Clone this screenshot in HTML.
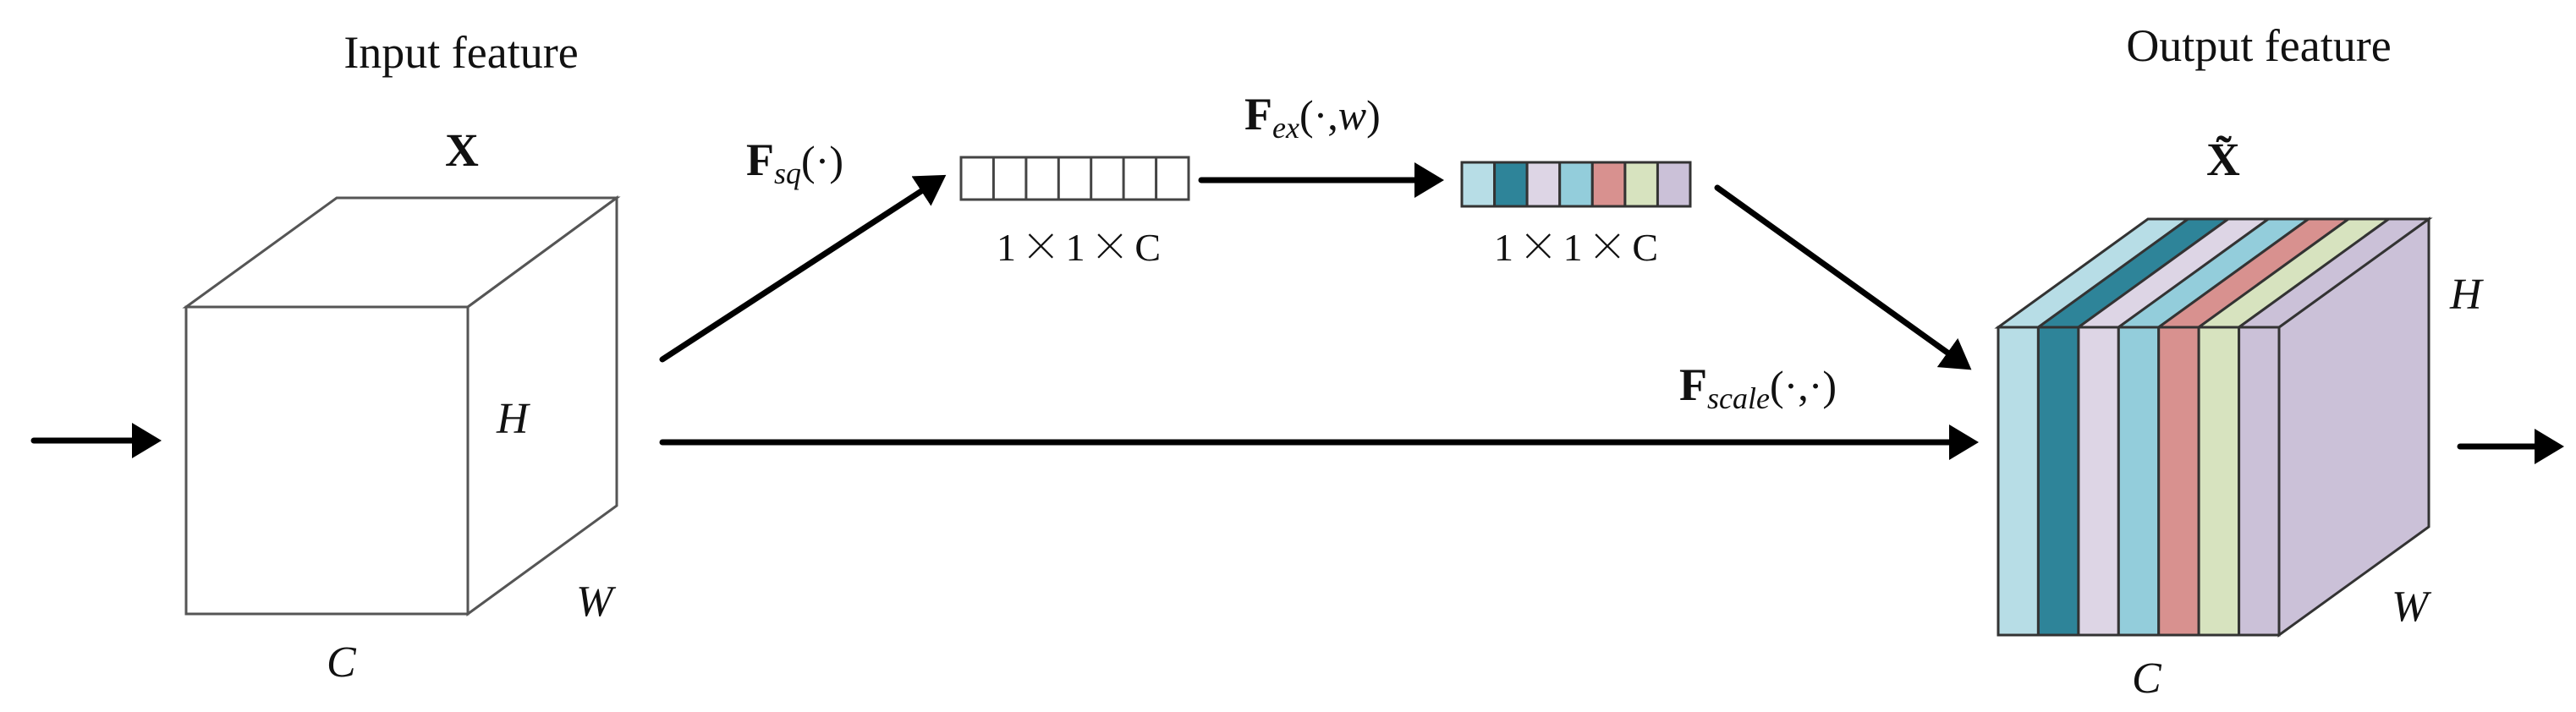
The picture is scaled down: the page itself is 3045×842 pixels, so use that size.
<!DOCTYPE html>
<html><head><meta charset="utf-8"><style>
html,body{margin:0;padding:0;background:#fff;}
svg{display:block;}
text{font-family:"Liberation Serif","Noto Serif CJK SC",serif;fill:#111;}
</style></head><body>
<svg width="3045" height="842" viewBox="0 0 3045 842" xmlns="http://www.w3.org/2000/svg">
<defs>
<marker id="ah" markerWidth="6" markerHeight="6" refX="0" refY="3" orient="auto" markerUnits="strokeWidth">
<path d="M0,0 L5,3 L0,6 z" fill="#000"/>
</marker>
</defs>

<text x="545" y="80" font-size="54" text-anchor="middle">Input feature</text>
<text x="2670" y="72" font-size="54" text-anchor="middle">Output feature</text>
<text x="546" y="196" font-size="55" font-weight="bold" text-anchor="middle">X</text>
<text x="2628" y="207" font-size="55" font-weight="bold" text-anchor="middle">X̃</text>

<g fill="#fff" stroke="#555" stroke-width="3" stroke-linejoin="miter">
<polygon points="220,363 398,234 729,234 553,363"/>
<polygon points="553,363 729,234 729,598 553,726"/>
<rect x="220" y="363" width="333" height="363"/>
</g>
<text x="587" y="512" font-size="52" font-style="italic">H</text>
<text x="681" y="728" font-size="52" font-style="italic">W</text>
<text x="386" y="800" font-size="52" font-style="italic">C</text>

<g stroke="#333" stroke-width="3" stroke-linejoin="miter">
<polygon points="2694,387 2871,259 2871,623 2694,751" fill="#cbc1d8"/>
<polygon points="2362,387 2409.4,387 2586.4,259 2539,259" fill="#b7dde6"/>
<polygon points="2409.4,387 2456.9,387 2633.9,259 2586.4,259" fill="#2e8499"/>
<polygon points="2456.9,387 2504.3,387 2681.3,259 2633.9,259" fill="#ddd5e5"/>
<polygon points="2504.3,387 2551.7,387 2728.7,259 2681.3,259" fill="#93cddb"/>
<polygon points="2551.7,387 2599.1,387 2776.1,259 2728.7,259" fill="#d8918f"/>
<polygon points="2599.1,387 2646.6,387 2823.6,259 2776.1,259" fill="#d7e3bf"/>
<polygon points="2646.6,387 2694,387 2871,259 2823.6,259" fill="#cbc1d8"/>
<rect x="2362" y="387" width="47.4" height="364" fill="#b7dde6"/>
<rect x="2409.4" y="387" width="47.5" height="364" fill="#2e8499"/>
<rect x="2456.9" y="387" width="47.4" height="364" fill="#ddd5e5"/>
<rect x="2504.3" y="387" width="47.4" height="364" fill="#93cddb"/>
<rect x="2551.7" y="387" width="47.4" height="364" fill="#d8918f"/>
<rect x="2599.1" y="387" width="47.5" height="364" fill="#d7e3bf"/>
<rect x="2646.6" y="387" width="47.4" height="364" fill="#cbc1d8"/>
</g>
<text x="2896" y="365" font-size="52" font-style="italic">H</text>
<text x="2827" y="734" font-size="52" font-style="italic">W</text>
<text x="2520" y="819" font-size="52" font-style="italic">C</text>

<g fill="#fff" stroke="#444" stroke-width="3">
<rect x="1136" y="186" width="269" height="50"/>
<line x1="1174.4" y1="186" x2="1174.4" y2="236"/>
<line x1="1212.9" y1="186" x2="1212.9" y2="236"/>
<line x1="1251.3" y1="186" x2="1251.3" y2="236"/>
<line x1="1289.7" y1="186" x2="1289.7" y2="236"/>
<line x1="1328.1" y1="186" x2="1328.1" y2="236"/>
<line x1="1366.6" y1="186" x2="1366.6" y2="236"/>
</g>
<g stroke="#333" stroke-width="3">
<rect x="1728" y="192" width="38.6" height="52" fill="#b7dde6"/>
<rect x="1766.6" y="192" width="38.6" height="52" fill="#2e8499"/>
<rect x="1805.1" y="192" width="38.6" height="52" fill="#ddd5e5"/>
<rect x="1843.7" y="192" width="38.6" height="52" fill="#93cddb"/>
<rect x="1882.3" y="192" width="38.6" height="52" fill="#d8918f"/>
<rect x="1920.9" y="192" width="38.6" height="52" fill="#d7e3bf"/>
<rect x="1959.4" y="192" width="38.6" height="52" fill="#cbc1d8"/>
</g>
<text x="1178" y="308" font-size="46" fill="#444" textLength="194" lengthAdjust="spacing">1<tspan font-family="Noto Sans CJK SC, sans-serif" font-weight="300">×</tspan>1<tspan font-family="Noto Sans CJK SC, sans-serif" font-weight="300">×</tspan>C</text>
<text x="1766" y="308" font-size="46" fill="#444" textLength="194" lengthAdjust="spacing">1<tspan font-family="Noto Sans CJK SC, sans-serif" font-weight="300">×</tspan>1<tspan font-family="Noto Sans CJK SC, sans-serif" font-weight="300">×</tspan>C</text>

<text x="882" y="207" font-size="54"><tspan font-weight="bold">F</tspan><tspan font-size="36" font-style="italic" dy="10">sq</tspan><tspan dy="-10" font-size="50">(·)</tspan></text>
<text x="1471" y="153" font-size="54"><tspan font-weight="bold">F</tspan><tspan font-size="36" font-style="italic" dy="10">ex</tspan><tspan dy="-10" font-size="50">(·,</tspan><tspan font-size="50" font-style="italic">w</tspan><tspan font-size="50">)</tspan></text>
<text x="1985" y="473" font-size="54"><tspan font-weight="bold">F</tspan><tspan font-size="36" font-style="italic" dy="10">scale</tspan><tspan dy="-10" font-size="50">(·,·)</tspan></text>

<g stroke="#000" stroke-width="7" stroke-linecap="round" fill="none">
<line x1="40" y1="521" x2="156" y2="521" marker-end="url(#ah)"/>
<line x1="783" y1="425" x2="1089" y2="226" marker-end="url(#ah)"/>
<line x1="1420" y1="213" x2="1672" y2="213" marker-end="url(#ah)"/>
<line x1="2030" y1="222" x2="2302" y2="417" marker-end="url(#ah)"/>
<line x1="783" y1="523" x2="2304" y2="523" marker-end="url(#ah)"/>
<line x1="2908" y1="528" x2="2996" y2="528" marker-end="url(#ah)"/>
</g>
</svg>
</body></html>
